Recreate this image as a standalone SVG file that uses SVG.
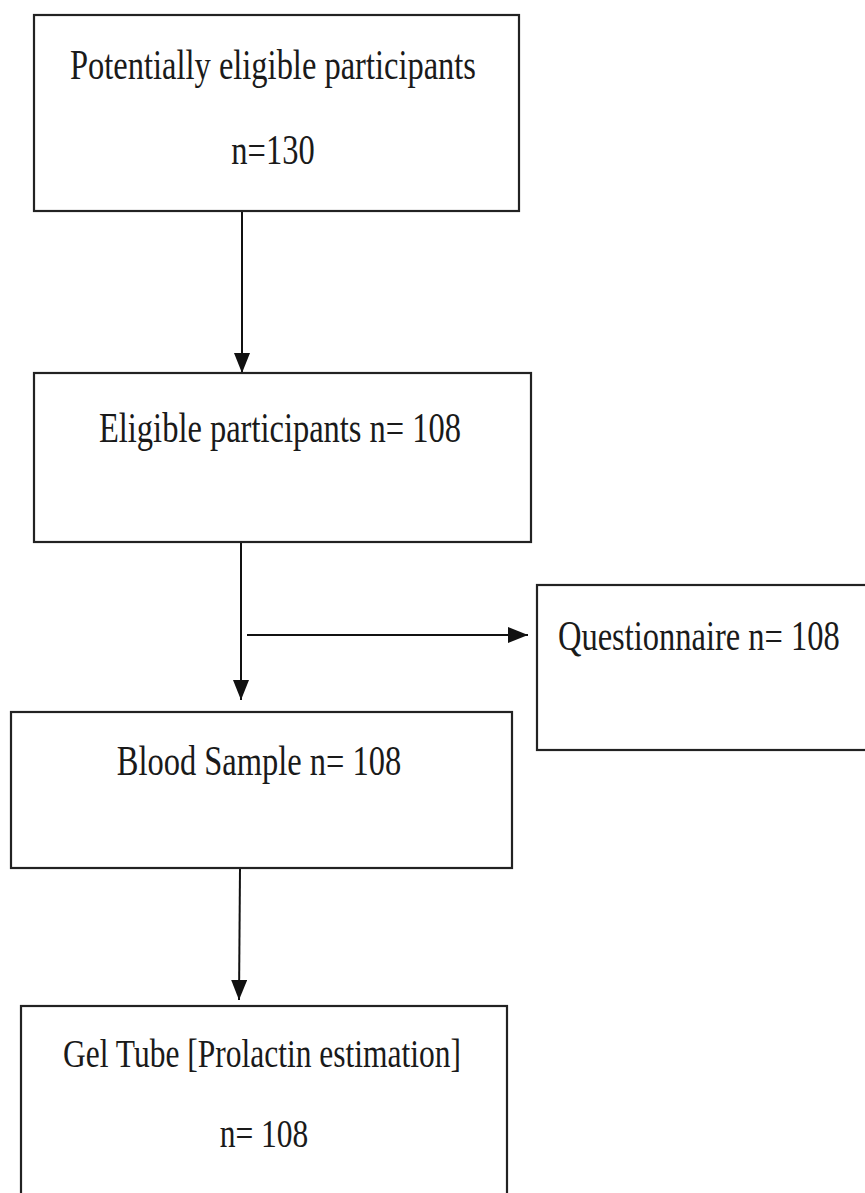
<svg xmlns="http://www.w3.org/2000/svg" width="865" height="1193" viewBox="0 0 865 1193">
<style>
.box{fill:#fff;stroke:#222;stroke-width:2.2}
.t{font-family:"Liberation Serif","Times New Roman",serif;font-size:32.5px;fill:#1a1a1a}
.c{text-anchor:middle}
.ln{stroke:#111;stroke-width:2;fill:none}
</style>
<defs>
<marker id="ah" viewBox="0 0 20 16" refX="20" refY="8" markerUnits="userSpaceOnUse" markerWidth="20" markerHeight="16" orient="auto">
<path d="M0,0 L20,8 L0,16 Z" fill="#111"/>
</marker>
</defs>
<rect width="865" height="1193" fill="#fff"/>
<g id="connectors">
<line class="ln" x1="242" y1="211" x2="242" y2="373" marker-end="url(#ah)"/>
<line class="ln" x1="241" y1="542" x2="241" y2="700" marker-end="url(#ah)"/>
<line class="ln" x1="247" y1="635" x2="528" y2="635" marker-end="url(#ah)"/>
<line class="ln" x1="240" y1="868" x2="239" y2="1000" marker-end="url(#ah)"/>
</g>
<g id="n1">
<rect class="box" x="34" y="15" width="485" height="196"/>
<text class="t c" transform="translate(273,79) scale(1,1.28)">Potentially eligible participants</text>
<text class="t c" transform="translate(273,164) scale(1,1.28)">n=130</text>
</g>
<g id="n2">
<rect class="box" x="34" y="373" width="497" height="169"/>
<text class="t c" transform="translate(280,442) scale(1,1.28)">Eligible participants n= 108</text>
</g>
<g id="n3">
<rect class="box" x="537" y="585" width="335" height="165"/>
<text class="t" transform="translate(558,650) scale(1,1.28)">Questionnaire n= 108</text>
</g>
<g id="n4">
<rect class="box" x="11" y="712" width="501" height="156"/>
<text class="t c" transform="translate(259,775) scale(1,1.28)">Blood Sample n= 108</text>
</g>
<g id="n5">
<rect class="box" x="21" y="1006" width="486" height="200"/>
<text class="t c" style="font-size:31.5px" transform="translate(262,1067) scale(1,1.28)">Gel Tube [Prolactin estimation]</text>
<text class="t c" style="font-size:31.5px" transform="translate(264,1147) scale(1,1.28)">n= 108</text>
</g>
</svg>
